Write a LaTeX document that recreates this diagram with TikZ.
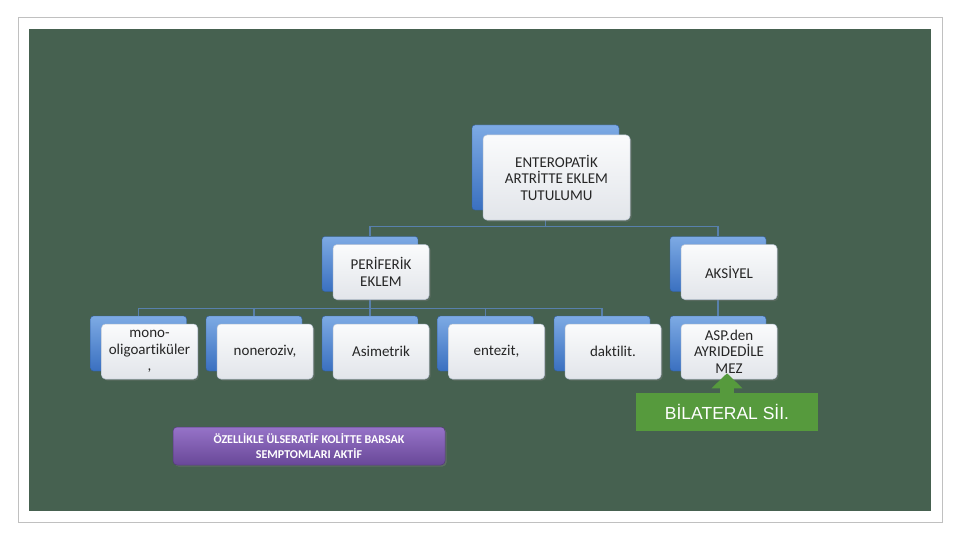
\documentclass[tikz,border=0pt]{standalone}
\usepackage{fontspec}
\setmainfont{Carlito}[Ligatures=NoCommon]
\newfontfamily\arialfont{Liberation Sans}
\definecolor{board}{RGB}{70,97,80}
\definecolor{frame}{RGB}{192,192,192}
\definecolor{cardtop}{RGB}{250,251,252}
\definecolor{cardbot}{RGB}{226,229,234}
\definecolor{cardline}{RGB}{185,196,212}
\definecolor{backtop}{RGB}{125,170,228}
\definecolor{backbot}{RGB}{58,112,192}
\definecolor{link}{RGB}{88,128,172}
\definecolor{arrowgreen}{RGB}{86,154,61}
\definecolor{purpletop}{RGB}{150,115,200}
\definecolor{purplebot}{RGB}{105,72,152}
\usetikzlibrary{positioning,shadows,arrows.meta}

\begin{document}
\begin{tikzpicture}[x=1pt,y=1pt,yscale=-1,
	cardback/.style={rectangle, rounded corners=3pt, inner sep=0pt, minimum width=96pt, minimum height=55pt, top color=backtop, bottom color=backbot, draw=backbot!85!black, line width=0.4pt},
	card/.style={rectangle, rounded corners=4pt, inner sep=2pt, minimum width=96pt, minimum height=55pt, align=center, top color=cardtop, bottom color=cardbot, draw=cardline, line width=0.5pt, font=\fontsize{15}{16.5}\selectfont, text=black!85, drop shadow={shadow xshift=1.5pt, shadow yshift=-1.5pt, opacity=0.35}},
	joint/.style={draw=link, line width=1.3pt}]
	\useasboundingbox (0,0) rectangle (960,540);
	
	%Shape: Slide frame and board
	\draw [frame, line width=1pt, fill=white] (18,18) rectangle (942,522);
	\fill [board] (29,29) rectangle (931,511);
	
	%Shape: blue cards behind
	\node [cardback, minimum width=147pt, minimum height=85pt] (top-b) at (545.5,167.5) {};
	\node [cardback] (per-b) at (370,264) {};
	\node [cardback] (aks-b) at (718,264) {};
	\node [cardback] (l1-b) at (138.5,343.5) {};
	\node [cardback] (l2-b) at (254,343.5) {};
	\node [cardback] (l3-b) at (370,343.5) {};
	\node [cardback] (l4-b) at (485.5,343.5) {};
	\node [cardback] (l5-b) at (602,343.5) {};
	\node [cardback] (l6-b) at (718,343.5) {};
	
	%Straight Lines: tree joints
	\draw [joint] (top-b.south) -- ++(0,16) -| (per-b.north);
	\draw [joint] (top-b.south) -- ++(0,16) -| (aks-b.north);
	\draw [joint] (per-b.south) -- ++(0,17) -| (l1-b.north);
	\draw [joint] (per-b.south) -- ++(0,17) -| (l2-b.north);
	\draw [joint] (per-b.south) -- ++(0,17) -| (l3-b.north);
	\draw [joint] (per-b.south) -- ++(0,17) -| (l4-b.north);
	\draw [joint] (per-b.south) -- ++(0,17) -| (l5-b.north);
	\draw [joint] (aks-b.south) -- (l6-b.north);
	
	% Text Node
	\node [card, minimum width=147pt, minimum height=85pt] (top) at ([shift={(11,10)}]top-b.center) {ENTEROPATİK\\ARTRİTTE EKLEM\\TUTULUMU};
	% Text Node
	\node [card] (per) at ([shift={(11,8)}]per-b.center) {PERİFERİK\\EKLEM};
	% Text Node
	\node [card] (aks) at ([shift={(11,8)}]aks-b.center) {AKSİYEL};
	% Text Node
	\node [card] (l1) at ([shift={(11,8)}]l1-b.center) {mono-\\oligoartiküler\\,};
	% Text Node
	\node [card] (l2) at ([shift={(11,8)}]l2-b.center) {noneroziv,};
	% Text Node
	\node [card] (l3) at ([shift={(11,8)}]l3-b.center) {Asimetrik};
	% Text Node
	\node [card] (l4) at ([shift={(11,8)}]l4-b.center) {entezit,};
	% Text Node
	\node [card] (l5) at ([shift={(11,8)}]l5-b.center) {daktilit.};
	% Text Node
	\node [card] (l6) at ([shift={(11,8)}]l6-b.center) {ASP.den\\AYRIDEDİLE\\MEZ};
	
	% Text Node
	\node [fill=arrowgreen, minimum width=182pt, minimum height=38pt, inner sep=0pt, text=white, font=\arialfont\fontsize{17.5}{20}\selectfont] (bil) at (727,412) {BİLATERAL SİI.};
	%Shape: green up arrow
	\draw [arrowgreen, line width=14pt, -{Triangle[width=30pt,length=15pt]}, shorten >=-6pt] (bil.north) -- (bil.north |- l6.south);
	
	% Text Node
	\node [rectangle, rounded corners=4pt, minimum width=272pt, minimum height=38pt, align=center, top color=purpletop, bottom color=purplebot, draw=purplebot!80!black, line width=0.5pt, text=white, font=\bfseries\fontsize{12}{14.5}\selectfont, drop shadow={shadow xshift=1.5pt, shadow yshift=-1.5pt, opacity=0.4}] (note) at (309,446) {ÖZELLİKLE ÜLSERATİF KOLİTTE BARSAK\\SEMPTOMLARI AKTİF};
	
\end{tikzpicture}
\end{document}
